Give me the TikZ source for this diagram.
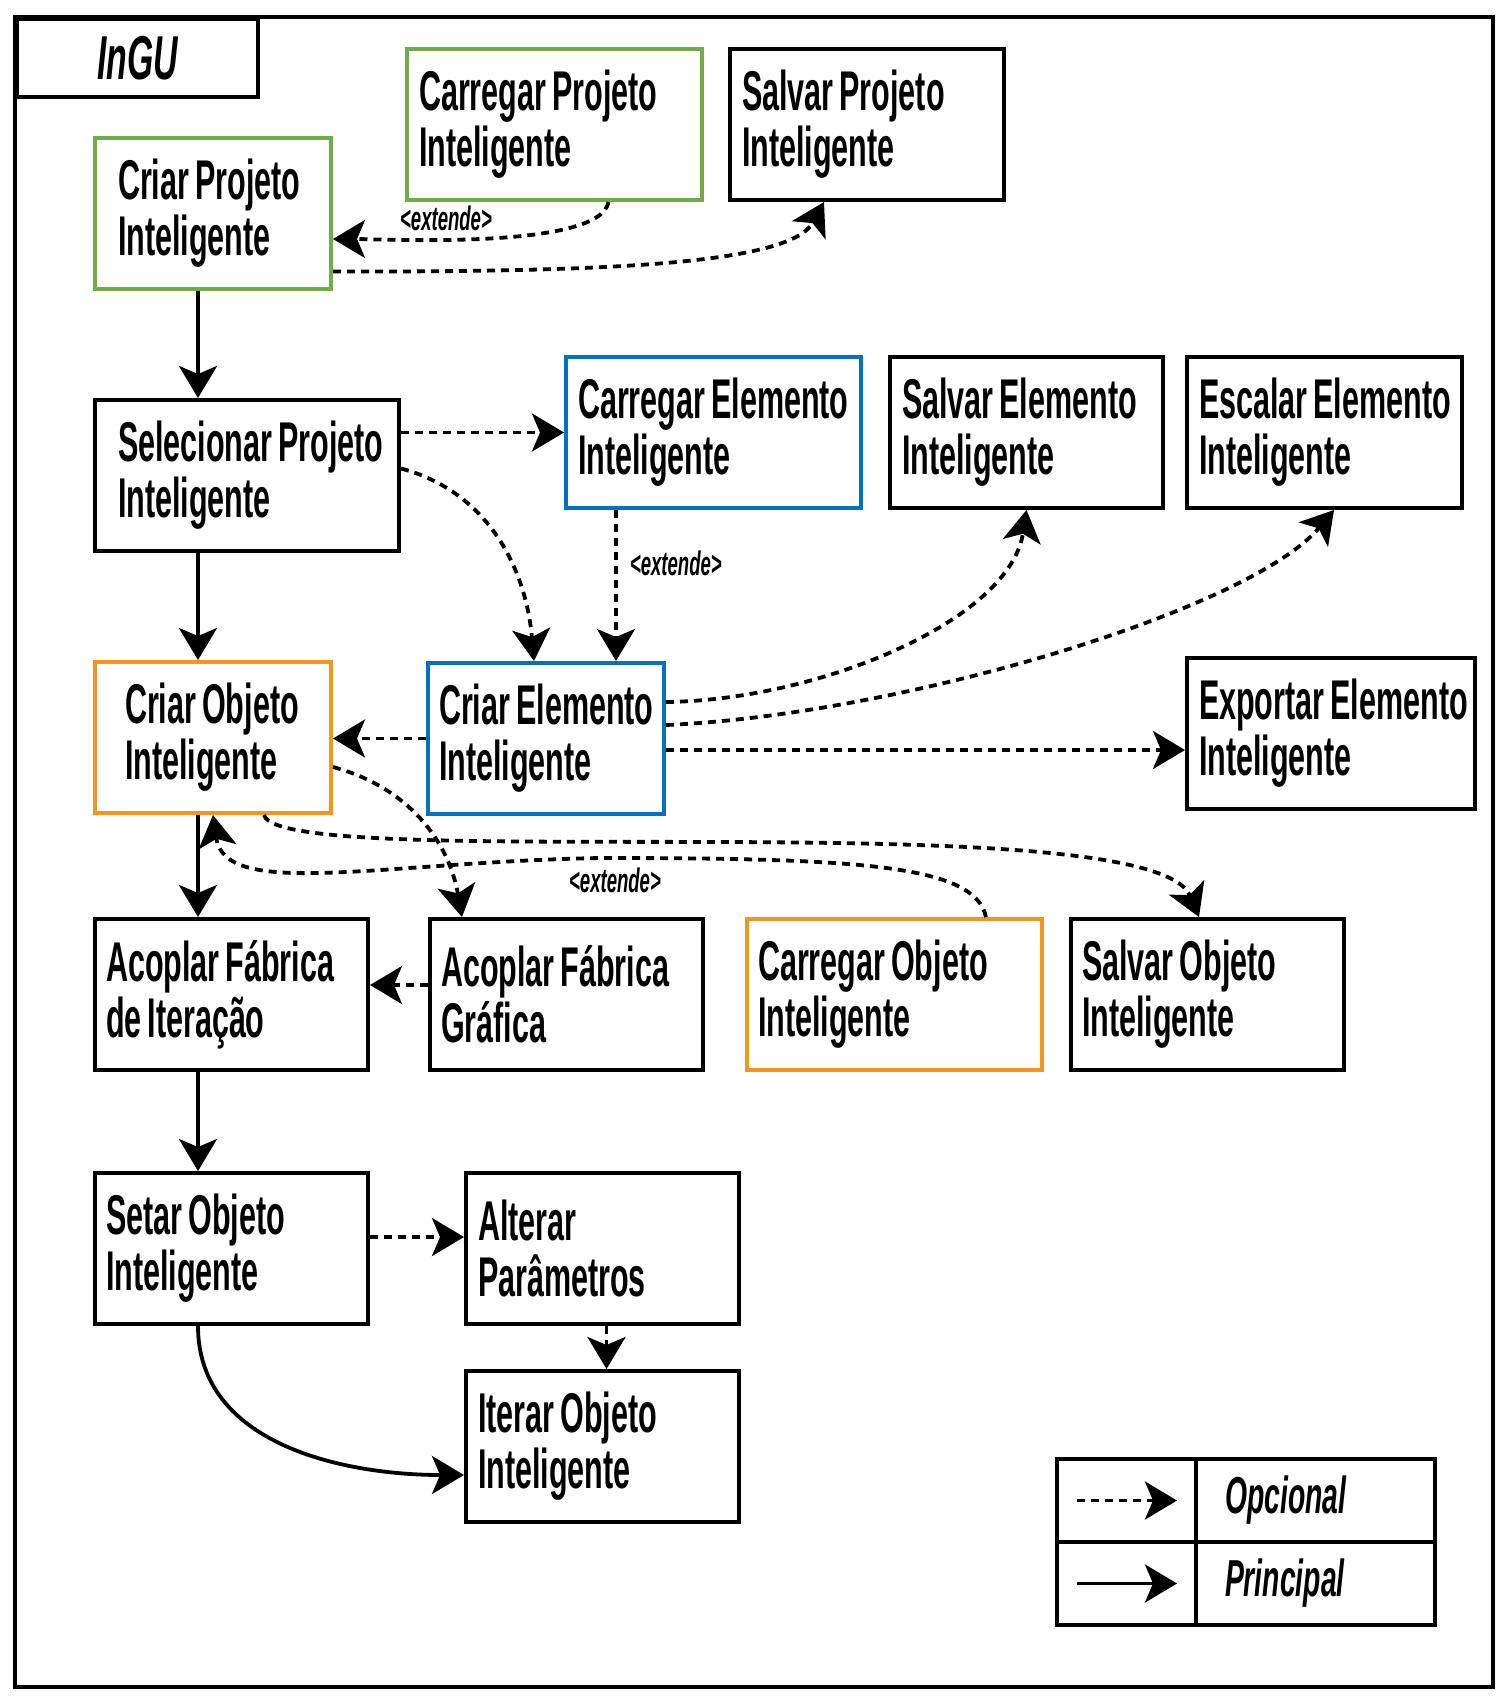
\documentclass[tikz,border=0pt]{standalone}
\usepackage{fontspec}
\setmainfont[FakeStretch=0.545]{Liberation Sans}
\usetikzlibrary{arrows.meta}
\hyphenpenalty=10000
\exhyphenpenalty=10000
\newcommand{\esp}{\nobreak\hspace{3pt}}

\definecolor{verde}{HTML}{70AD47}
\definecolor{azul}{HTML}{0070C0}
\definecolor{laranja}{HTML}{F7941D}

\tikzset{
  caixa/.style={draw, line width=2pt, anchor=north west, align=left, minimum height=75.5pt,
    inner xsep=6pt, font=\bfseries\fontsize{28}{28}\selectfont},
  principal/.style={line width=1.9pt, -{Stealth[length=16pt, width=19pt, inset=4pt]}},
  opcional/.style={principal, dash pattern=on 4pt off 3pt},
  rotulo/.style={font=\bfseries\itshape\fontsize{17}{17}\selectfont},
  legenda/.style={draw, line width=2pt, anchor=north west, minimum height=41.5pt},
}

\begin{document}
\begin{tikzpicture}[x=0.5pt, y=-0.5pt]
   \useasboundingbox (0,0) rectangle (1508,1704);
   \draw[line width=2pt] (15,17) rectangle (1493,1687);
   \node[draw, line width=2pt, anchor=north west, minimum width=120.5pt, minimum height=39pt,
         font=\bfseries\itshape\fontsize{31}{31}\selectfont] (titulo) at (15,17) {InGU};

   % projeto
   \node[caixa, draw=verde, text width=95pt, inner xsep=11.5pt] (cpi) at (93,136) {Criar\esp Projeto\\Inteligente};
   \node[caixa, draw=verde, text width=135.5pt] (cpr) at (405,47) {Carregar\esp Projeto\\Inteligente};
   \node[caixa, text width=125pt] (spr) at (728,47) {Salvar\esp Projeto\\Inteligente};
   \node[caixa, text width=129pt, inner xsep=11.5pt] (sel) at (93,398) {Selecionar\esp Projeto\\Inteligente};

   % elemento
   \node[caixa, draw=azul, text width=135.5pt] (cel) at (564,355) {Carregar\esp Elemento\\Inteligente};
   \node[caixa, text width=124.5pt] (sve) at (888,355) {Salvar\esp Elemento\\Inteligente};
   \node[caixa, text width=125.5pt] (ese) at (1185,355) {Escalar\esp Elemento\\Inteligente};
   \node[caixa, draw=azul, text width=107pt, inner xsep=5.5pt] (cre) at (426,661) {Criar\esp Elemento\\Inteligente};
   \node[caixa, text width=132pt] (exe) at (1185,656) {Exportar\esp Elemento\\Inteligente};

   % objeto
   \node[caixa, draw=laranja, text width=88pt, inner xsep=15pt] (cob) at (93,660) {Criar\esp Objeto\\Inteligente};
   \node[caixa, text width=125.5pt, inner xsep=5.5pt] (afi) at (93,917) {Acoplar\esp Fábrica\\de\esp Iteração};
   \node[caixa, text width=125.5pt, inner xsep=5.5pt] (afg) at (428,917) {Acoplar\esp Fábrica\\Gráfica};
   \node[caixa, draw=laranja, text width=136.5pt, inner xsep=5.5pt] (cao) at (745,917) {Carregar\esp Objeto\\Inteligente};
   \node[caixa, text width=125.5pt, inner xsep=5.5pt] (svo) at (1069,917) {Salvar\esp Objeto\\Inteligente};
   \node[caixa, text width=125.5pt, inner xsep=5.5pt] (sto) at (93,1171) {Setar\esp Objeto\\Inteligente};
   \node[caixa, text width=124.5pt] (alp) at (464,1171) {Alterar\\Parâmetros};
   \node[caixa, text width=124.5pt] (ito) at (464,1369) {Iterar\esp Objeto\\Inteligente};

   % fluxo principal
   \coordinate (eixo) at (198,0);
   \draw[principal] (cpi.south -| eixo) -- (sel.north -| eixo);
   \draw[principal] (sel.south -| eixo) -- (cob.north -| eixo);
   \draw[principal] (cob.south -| eixo) -- (afi.north -| eixo);
   \draw[principal] (afi.south -| eixo) -- (sto.north -| eixo);
   \draw[principal] (sto.south -| eixo) to[out=-90, in=180] ([yshift=-14.25pt]ito.west);

   % opcionais
   \draw[opcional] ([xshift=27pt]cpr.south) to[out=-100, in=0, looseness=0.45] ([yshift=-12.75pt]cpi.east);
   \node[rotulo] (ext1) at (446,218) {\textless extende\textgreater};
   \draw[opcional] ([yshift=-29pt]cpi.east) .. controls (600,272) and (790,265) .. ([xshift=-21.5pt]spr.south);
   \draw[opcional] (cel.west -| sel.east) -- (cel.west);
   \draw[opcional] ([yshift=3.5pt]sel.east) to[out=-15, in=95] ([xshift=-6pt]cre.north);
   \coordinate (ext) at (616,0);
   \draw[opcional] (cel.south -| ext) -- (cre.north -| ext);
   \node[rotulo, anchor=west] (ext2) at (623,563) {\textless extende\textgreater};
   \draw[opcional] (cre.west) -- (cre.west -| cob.east);
   \draw[opcional] ([yshift=18.25pt]cre.east) .. controls (820,700) and (1010,620) .. (sve.south);
   \draw[opcional] ([yshift=6.75pt]cre.east) .. controls (900,715) and (1250,610) .. ([xshift=4.75pt]ese.south);
   \coordinate (sx) at ([yshift=-5.75pt]cre.east);
   \draw[opcional] (sx) -- (sx -| exe.west);
   \draw[opcional] ([yshift=-14.75pt]cob.east) to[out=-15, in=100] ([xshift=-52.25pt]afg.north);
   \draw[opcional] ([yshift=4.75pt]afg.west) -- ([yshift=4.75pt]afi.east);
   \draw[opcional] ([xshift=25.5pt]cob.south) .. controls (280,875) and (1150,800) .. ([xshift=-4.25pt]svo.north);
   \draw[opcional] ([xshift=45.75pt]cao.north) .. controls (975,865) and (860,858) .. (600,858)
                   .. controls (380,862) and (225,900) .. (cob.south);
   \node[rotulo] (ext3) at (615,880) {\textless extende\textgreater};
   \draw[opcional] ([yshift=5.75pt]sto.east) -- ([yshift=5.75pt]alp.west);
   \draw[opcional] ([xshift=2pt]alp.south) -- ([xshift=2pt]ito.north);

   % legenda
   \node[legenda, minimum width=69.5pt] (lg1) at (1055,1457) {};
   \node[legenda, text width=90.5pt, inner xsep=14.5pt, align=left,
         font=\bfseries\itshape\fontsize{26}{26}\selectfont] (lg2) at (1194,1457) {Opcional};
   \node[legenda, minimum width=69.5pt] (lg3) at (1055,1540) {};
   \node[legenda, text width=90.5pt, inner xsep=14.5pt, align=left,
         font=\bfseries\itshape\fontsize{26}{26}\selectfont] (lg4) at (1194,1540) {Principal};
   \draw[opcional] ([xshift=-24.75pt]lg1.center) -- ([xshift=25.25pt]lg1.center);
   \draw[principal] ([xshift=-24.75pt]lg3.center) -- ([xshift=25.25pt]lg3.center);
\end{tikzpicture}
\end{document}
